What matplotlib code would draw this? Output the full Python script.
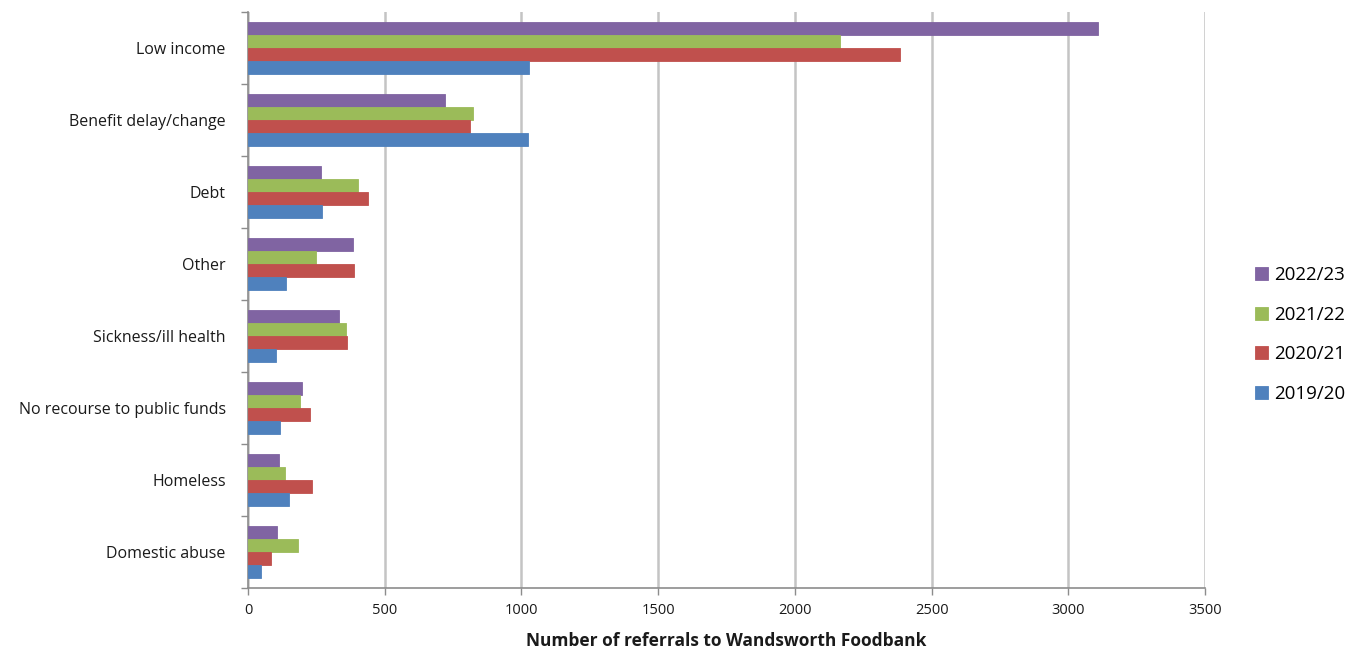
import numpy as np
import matplotlib.pyplot as plt

plt.rcParams['font.family'] = ['Open Sans', 'DejaVu Sans']

categories = ['Low income', 'Benefit delay/change', 'Debt', 'Other',
              'Sickness/ill health', 'No recourse to public funds',
              'Homeless', 'Domestic abuse']

referrals_2022_23 = [3107, 721, 267, 384, 332, 196, 112, 106]
referrals_2021_22 = [2165, 822, 401, 250, 357, 189, 135, 183]
referrals_2020_21 = [2384, 813, 439, 388, 361, 227, 233, 84]
referrals_2019_20 = [1026, 1023, 271, 139, 101, 118, 149, 48]

series = [
    ('2022/23', referrals_2022_23, '#8064A2'),
    ('2021/22', referrals_2021_22, '#9BBB59'),
    ('2020/21', referrals_2020_21, '#C0504D'),
    ('2019/20', referrals_2019_20, '#4F81BD'),
]

fig = plt.figure(figsize=(13.58, 6.54), dpi=100)
ax = fig.add_axes([248 / 1358, 1 - 588 / 654, (1205 - 248) / 1358, (588 - 12) / 654])

y = np.arange(len(categories))
h = 0.18
for k, (label, vals, color) in enumerate(series):
    ax.barh(y + (k - 1.5) * h, vals, height=h, color=color, label=label,
            edgecolor=color, linewidth=0.6, zorder=3)

ax.set_ylim(len(categories) - 0.5, -0.5)
ax.set_xlim(0, 3500)
ax.set_xticks(np.arange(0, 3501, 500))
ax.xaxis.grid(True, color='#c4c4c4', linewidth=1.8, zorder=0)

# category labels between boundary ticks
ax.set_yticks(y)
ax.set_yticklabels(categories, fontsize=11.5, color='#1a1a1a')
ax.set_yticks(np.arange(-0.5, len(categories)), minor=True)
ax.tick_params(axis='y', which='major', length=0, pad=16)
ax.tick_params(axis='y', which='minor', length=5, color='#8c8c8c', width=1)
ax.tick_params(axis='x', length=5, color='#8c8c8c', width=1, labelsize=10.5,
               labelcolor='#1a1a1a', pad=6)

for side in ['top', 'right']:
    ax.spines[side].set_visible(False)
for side in ['left', 'bottom']:
    ax.spines[side].set_color('#8c8c8c')
    ax.spines[side].set_linewidth(1.2)

ax.set_xlabel('Number of referrals to Wandsworth Foodbank', fontsize=12.5,
              fontweight='bold', color='#1a1a1a', labelpad=10)

ax.legend(loc='center left', bbox_to_anchor=(1.035, 0.44), frameon=False,
          fontsize=13.5, handlelength=0.7, handleheight=0.7, handletextpad=0.3,
          labelspacing=1.15)

fig.savefig('out.png', dpi=100)
